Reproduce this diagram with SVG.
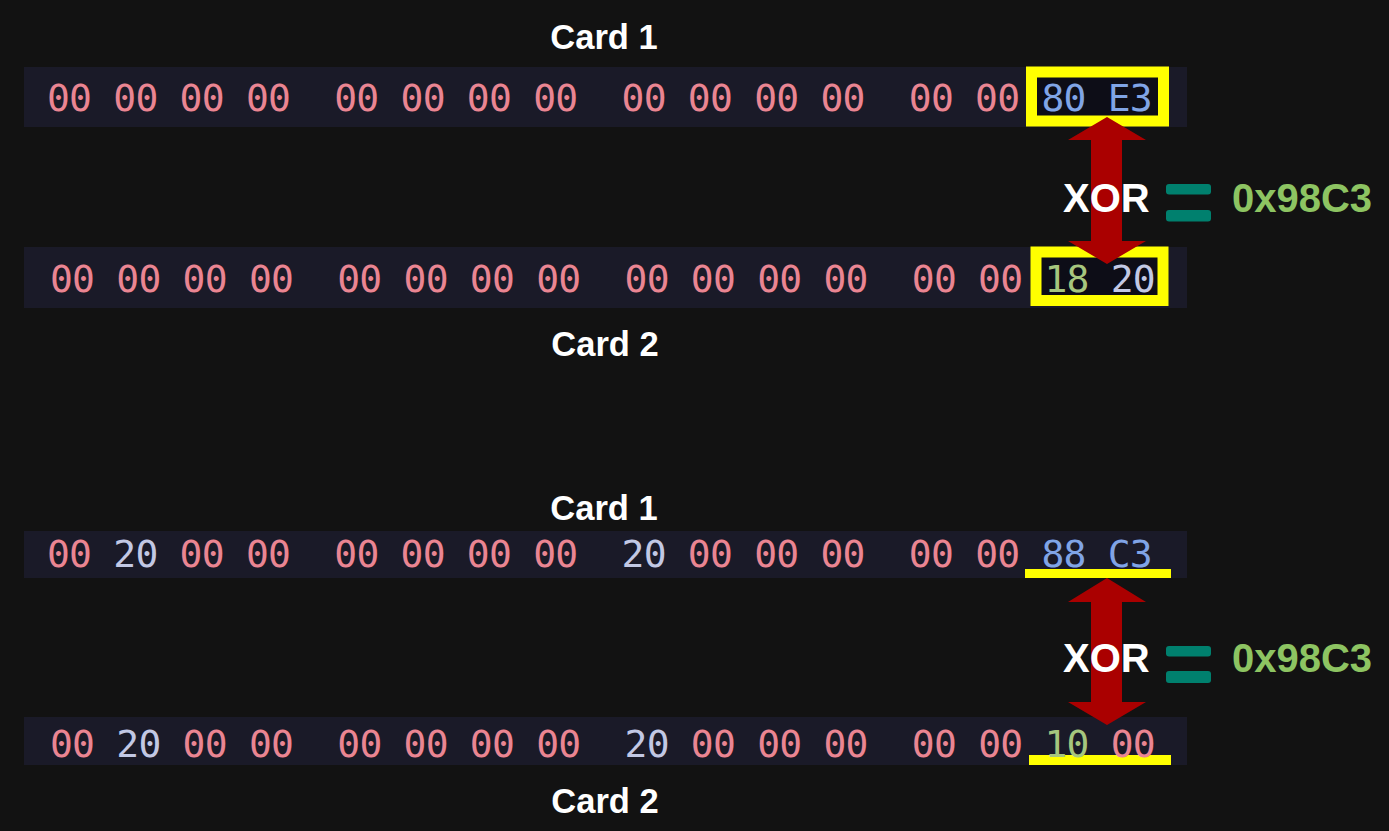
<svg xmlns="http://www.w3.org/2000/svg" width="1389" height="831" viewBox="0 0 1389 831">
<style>
.bg{fill:#121212}
.strip{fill:#1a1a28}
.hl{fill:#0d0d17;stroke:#ffff00;stroke-width:11}
.bar{fill:#ffff00}
.hex{font-family:"DejaVu Sans Mono",monospace;font-size:38px;letter-spacing:-0.78px;white-space:pre}
.z{fill:#ea8592}
.b{fill:#80a4e6}
.w{fill:#c2c8e4}
.g{fill:#a6c67e}
.card{font-family:"Liberation Sans",Arial,sans-serif;font-weight:bold;font-size:34.5px;fill:#ffffff;text-anchor:middle}
.xor{font-family:"Liberation Sans",Arial,sans-serif;font-weight:bold;font-size:40px;fill:#ffffff}
.res{font-family:"Liberation Sans",Arial,sans-serif;font-weight:bold;font-size:40px;fill:#8dc462}
.eq{fill:#00806e}
.arrow{fill:#aa0000}
</style>
<rect class="bg" x="0" y="0" width="1389" height="831"/>

<g id="top-card1-label"><text class="card" x="604" y="49">Card 1</text></g>
<g id="top-card1-row">
<rect class="strip" x="24" y="67" width="1163" height="60"/>
<rect class="hl" x="1031.5" y="72" width="132" height="49"/>
<text class="hex" x="47" y="111" xml:space="preserve"><tspan class="z">00 00 00 00  00 00 00 00  00 00 00 00  00 00 </tspan><tspan class="b">80 E3</tspan></text>
</g>

<g id="top-card2-row">
<rect class="strip" x="24" y="247" width="1163" height="61"/>
<rect class="hl" x="1036" y="252" width="127" height="48.5"/>
<text class="hex" x="50" y="292" xml:space="preserve"><tspan class="z">00 00 00 00  00 00 00 00  00 00 00 00  00 00 </tspan><tspan class="g">18 </tspan><tspan class="w">20</tspan></text>
</g>
<g id="top-card2-label"><text class="card" x="605" y="356">Card 2</text></g>

<g id="bottom-card1-label"><text class="card" x="604" y="520">Card 1</text></g>
<g id="bottom-card1-row">
<rect class="strip" x="24" y="531" width="1163" height="47"/>
<rect class="bar" x="1025" y="569" width="146" height="9"/>
<text class="hex" x="47" y="567" xml:space="preserve"><tspan class="z">00 </tspan><tspan class="w">20 </tspan><tspan class="z">00 00  00 00 00 00  </tspan><tspan class="w">20 </tspan><tspan class="z">00 00 00  00 00 </tspan><tspan class="b">88 C3</tspan></text>
</g>

<g id="bottom-card2-row">
<rect class="strip" x="24" y="717" width="1163" height="48"/>
<rect class="bar" x="1029" y="755" width="142" height="10"/>
<text class="hex" x="50" y="757" xml:space="preserve"><tspan class="z">00 </tspan><tspan class="w">20 </tspan><tspan class="z">00 00  00 00 00 00  </tspan><tspan class="w">20 </tspan><tspan class="z">00 00 00  00 00 </tspan><tspan class="g">10 </tspan><tspan class="z">00</tspan></text>
</g>
<g id="bottom-card2-label"><text class="card" x="605" y="813">Card 2</text></g>

<g id="connectors">
<polygon class="arrow" points="1107,117 1146,140 1122,140 1122,241 1146,241 1107,264 1068,241 1091,241 1091,140 1068,140"/>
<polygon class="arrow" points="1107,578 1146,602 1122,602 1122,702 1146,702 1107,725 1068,702 1091,702 1091,602 1068,602"/>
</g>

<g id="top-xor">
<text class="xor" x="1063" y="212">XOR</text>
<rect class="eq" x="1166" y="184" width="45" height="10.5" rx="3"/>
<rect class="eq" x="1166" y="210" width="45" height="11.5" rx="3"/>
<text class="res" x="1232" y="212">0x98C3</text>
</g>

<g id="bottom-xor">
<text class="xor" x="1063" y="672">XOR</text>
<rect class="eq" x="1166" y="646" width="45" height="10.5" rx="3"/>
<rect class="eq" x="1166" y="671" width="45" height="12" rx="3"/>
<text class="res" x="1232" y="672">0x98C3</text>
</g>
</svg>
